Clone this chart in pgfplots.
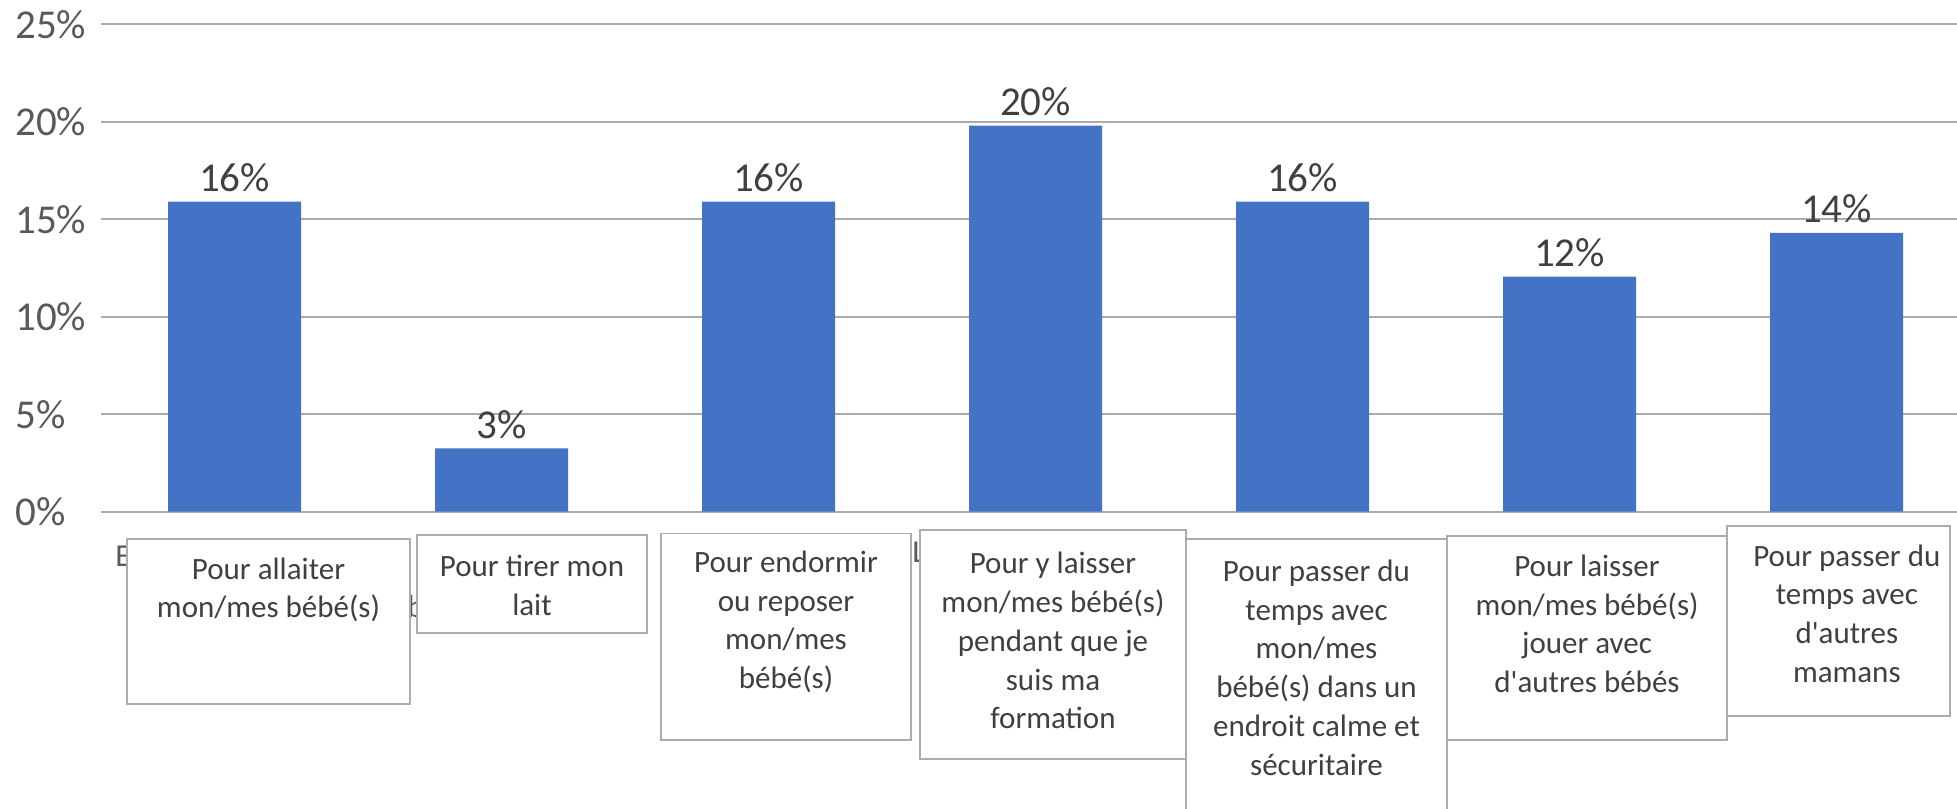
\documentclass[border=0pt]{standalone}
\usepackage{fontspec}
\setmainfont{Carlito}
\usepackage{pgfplots}
\pgfplotsset{compat=1.18}
\usepackage{pgfplotstable}

\definecolor{barblue}{HTML}{4472C4}
\definecolor{gridgray}{HTML}{ABABAB}
\definecolor{boxgray}{HTML}{ADADAD}
\definecolor{ticktxt}{HTML}{595959}
\definecolor{labtxt}{HTML}{404040}

\pgfplotstableread{
x y lab
0 15.9 16
1 3.25 3
2 15.9 16
3 19.8 20
4 15.9 16
5 12.05 12
6 14.3 14
}\raisons

\tikzset{
  boxtext/.style={anchor=north, inner sep=0pt, align=center, text=labtxt,
    font=\fontsize{15.5}{19.35}\selectfont},
  txtbox/.style={draw=boxgray, line width=0.8pt, fill=white},
  peek/.style={inner sep=0pt, text=ticktxt, font=\fontsize{16}{19}\selectfont}
}

\begin{document}
\begin{tikzpicture}
\path[use as bounding box] (-50.5pt,-148.15pt) rectangle (928pt,255.85pt);
\clip (-50.5pt,-148.15pt) rectangle (928pt,255.85pt);
\begin{axis}[
    at={(0pt,0pt)}, anchor=south west,
    scale only axis,
    width=928pt, height=243.75pt,
    ybar, bar width=66.5pt,
    xmin=-0.5, xmax=6.451,
    ymin=0, ymax=25,
    xtick=\empty,
    ytick={0,5,10,15,20,25},
    yticklabel={\pgfmathparse{int(\tick)}\pgfmathresult\%},
    yticklabel style={anchor=west, inner sep=0pt, xshift=-43pt,
      font=\fontsize{20.5}{24}\selectfont, text=ticktxt},
    major tick length=0pt,
    axis line style={draw=none},
    ymajorgrids,
    grid style={draw=gridgray, line width=1.1pt},
    point meta=explicit symbolic,
    nodes near coords={\pgfplotspointmeta\%},
    every node near coord/.append style={anchor=base, inner sep=0pt,
      yshift=5pt, text=labtxt, font=\fontsize{20.5}{24}\selectfont},
]
\addplot[fill=barblue, draw=none] table[x=x, y=y, meta=lab] {\raisons};
\end{axis}

% bits of the original category labels showing between the boxes
\node[peek, anchor=west] at (7pt,-22.3pt) {E};
\node[peek, anchor=west] at (153pt,-47.6pt) {b};
\node[peek, anchor=west] at (405.5pt,-20.4pt) {L};

\draw[txtbox] (13pt,-13.65pt) rectangle (154.5pt,-96.15pt);
\draw[txtbox] (158pt,-11.65pt) rectangle (273pt,-60.65pt);
\draw[txtbox] (280pt,-10.9pt) rectangle (405pt,-114.15pt);
\draw[txtbox] (409.5pt,-9.15pt) rectangle (542.5pt,-123.65pt);
\draw[txtbox] (542.5pt,-13.65pt) rectangle (673pt,-200pt);
\draw[txtbox] (673pt,-12.15pt) rectangle (813pt,-114.15pt);
\draw[txtbox] (813pt,-7.15pt) rectangle (924.5pt,-102.15pt);

\node[boxtext] at (83.75pt,-22.75pt) {Pour allaiter\\mon/mes bébé(s)};
\node[boxtext] at (215.5pt,-21.45pt) {Pour tirer mon\\lait};
\node[boxtext] at (342.5pt,-19.45pt) {Pour endormir\\ou reposer\\mon/mes\\bébé(s)};
\node[boxtext] at (476pt,-20.15pt) {Pour y laisser\\mon/mes bébé(s)\\pendant que je\\suis ma\\formation};
\node[boxtext] at (607.75pt,-23.95pt) {Pour passer du\\temps avec\\mon/mes\\bébé(s) dans un\\endroit calme et\\sécuritaire};
\node[boxtext] at (743pt,-21.45pt) {Pour laisser\\mon/mes bébé(s)\\jouer avec\\d\textquotesingle autres bébés};
\node[boxtext] at (872.9pt,-16.3pt) {Pour passer du\\temps avec\\d\textquotesingle autres\\mamans};
\end{tikzpicture}
\end{document}
